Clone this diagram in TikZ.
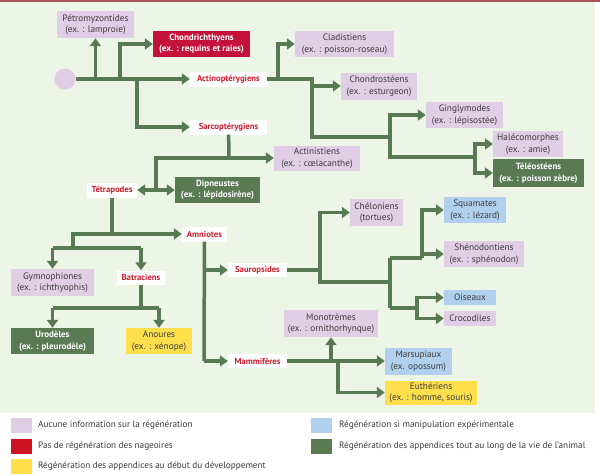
\documentclass[tikz,border=0pt]{standalone}
\usepackage{fontspec}
\setmainfont{PT Sans}
\usetikzlibrary{arrows.meta}
\definecolor{bg}{RGB}{237,245,231}
\definecolor{topline}{RGB}{170,82,92}
\definecolor{wirec}{RGB}{88,122,82}
\definecolor{dgreen}{RGB}{90,122,84}
\definecolor{purp}{RGB}{224,205,230}
\definecolor{redbox}{RGB}{196,18,58}
\definecolor{redleg}{RGB}{204,20,36}
\definecolor{yel}{RGB}{255,224,76}
\definecolor{blu}{RGB}{176,208,238}
\definecolor{labred}{RGB}{208,28,44}
\definecolor{txt}{RGB}{60,60,60}
\tikzset{
  box/.style={inner sep=0pt, align=center, text=txt, font=\fontsize{9.3}{11.5}\selectfont},
  sz/.style 2 args={minimum width=#1, minimum height=#2},
  pbox/.style={box, fill=purp},
  bbox/.style={box, fill=blu},
  ybox/.style={box, fill=yel},
  gbox/.style={box, fill=dgreen, text=white, font=\bfseries\fontsize{9}{11.5}\selectfont},
  rbox/.style={box, fill=redbox, text=white, font=\bfseries\fontsize{9}{11.5}\selectfont},
  lab/.style={box, fill=white, text=labred, font=\bfseries\fontsize{8.7}{10}\selectfont},
  wire/.style={draw=wirec, line width=3.5pt},
  arr/.style={wire, -{Triangle[length=8pt,width=11pt]}},
  swatch/.style={minimum width=21, minimum height=15, inner sep=0pt},
  legtxt/.style={anchor=west, inner sep=0pt, text=txt, font=\fontsize{9.2}{11}\selectfont}
}
\begin{document}
\begin{tikzpicture}[x=1pt,y=-1pt]
\useasboundingbox (0,0) rectangle (600,475);
\fill[white] (0,0) rectangle (600,475);
\fill[bg] (0,2) rectangle (595,413);
\fill[topline] (0,0) rectangle (600,2);

% nodes
\node[circle, fill=purp, minimum size=21, inner sep=0pt] (root) at (65,79) {};
\node[pbox, sz={77}{27}] (petro) at (95.5,24.5) {Pétromyzontides\\(ex. : lamproie)};
\node[rbox, sz={97}{26}] (chon) at (201.5,44) {Chondrichthyens\\(ex. : requins et raies)};
\node[lab, sz={77}{15}] (actino) at (228.5,79) {Actinoptérygiens};
\node[lab, sz={77}{15}] (sarco) at (228.5,127) {Sarcoptérygiens};
\node[pbox, sz={99}{26}] (clad) at (344.5,44) {Cladistiens\\(ex. : poisson-roseau)};
\node[pbox, sz={76}{27}] (chondro) at (379,86) {Chondrostéens\\(ex. : esturgeon)};
\node[pbox, sz={77}{26}] (gingly) at (464.5,115) {Ginglymodes\\(ex. : lépisostée)};
\node[pbox, sz={70}{26}] (halec) at (528,144) {Halécomorphes\\(ex. : amie)};
\node[gbox, sz={91}{28}] (teleo) at (538.5,173) {Téléostéens\\(ex. : poisson zèbre)};
\node[pbox, sz={86}{25}] (actin) at (317,158) {Actinistiens\\(ex. : cœlacanthe)};
\node[lab, sz={50}{15}] (tetra) at (112,190) {Tétrapodes};
\node[gbox, sz={85}{26}] (dipn) at (217.5,190) {Dipneustes\\(ex. : lépidosirène)};
\node[lab, sz={45}{15}] (amnio) at (204.5,234) {Amniotes};
\node[pbox, sz={83}{27}] (gymno) at (52.5,282.5) {Gymnophiones\\(ex. : ichthyophis)};
\node[lab, sz={48}{14}] (batra) at (141,277.5) {Batraciens};
\node[gbox, sz={83}{26}] (urod) at (52.5,341) {Urodèles\\(ex. : pleurodèle)};
\node[ybox, sz={66}{26}] (anour) at (159,341) {Anoures\\(ex. : xénope)};
\node[lab, sz={59}{14}] (sauro) at (257.5,270) {Sauropsides};
\node[lab, sz={59}{14}] (mammi) at (257.5,361) {Mammifères};
\node[pbox, sz={53}{27}] (chelo) at (376.5,212.5) {Chéloniens\\(tortues)};
\node[bbox, sz={62}{26}] (squam) at (475,210) {Squamates\\(ex. : lézard)};
\node[pbox, sz={80}{26}] (sheno) at (484,254) {Shénodontiens\\(ex. : sphénodon)};
\node[bbox, sz={52}{15}] (oise) at (470,297.5) {Oiseaux};
\node[pbox, sz={52}{15}] (croco) at (470,318.5) {Crocodiles};
\node[pbox, sz={94}{27}] (mono) at (331,323.5) {Monotrèmes\\(ex. : ornithorhynque)};
\node[bbox, sz={67}{27}] (marsu) at (418.5,361) {Marsupiaux\\(ex. opossum)};
\node[ybox, sz={92}{24}] (euth) at (431,392.5) {Euthériens\\(ex. : homme, souris)};

% junctions
\coordinate (c1) at (95.5,79);
\coordinate (c2) at (120,79);
\coordinate (c3) at (137,79);
\coordinate (c4) at (278,79);
\coordinate (c5) at (312,79);
\coordinate (c7) at (312,137);
\coordinate (c8) at (390,137);
\coordinate (c9) at (390,157);
\coordinate (c10) at (475,157);
\coordinate (c11) at (229,158);
\coordinate (c12) at (156,158);
\coordinate (c13) at (156,190);
\coordinate (c14) at (112,234);
\coordinate (c15) at (73,234);
\coordinate (c16) at (73,248);
\coordinate (c17) at (52.5,248);
\coordinate (c18) at (141,248);
\coordinate (c19) at (141,308);
\coordinate (c20) at (52.5,308);
\coordinate (c21) at (159,308);
\coordinate (c22) at (204,270);
\coordinate (c23) at (204,361);
\coordinate (c24) at (320,270);
\coordinate (c25) at (320,282);
\coordinate (c26) at (390,282);
\coordinate (c27) at (390,258);
\coordinate (c28) at (390,308);
\coordinate (c29) at (422,258);
\coordinate (c30) at (417,308);
\coordinate (c31) at (331,361);
\coordinate (c32) at (338,361);

% connectors
\draw[arr] (root) -- (actino);
\draw[arr] (c1) -- (petro);
\draw[arr] (c2) |- (chon);
\draw[arr] (c3) |- (sarco);
\draw[arr] (actino) -- (c4) |- (clad);
\draw[wire] (c4) -- (c5) -- (c7) -- (c8);
\draw[arr] (c5) |- (chondro);
\draw[arr] (c8) |- (gingly);
\draw[wire] (c8) -- (c9) -- (c10);
\draw[arr] (c10) |- (halec);
\draw[arr] (c10) |- (teleo);
\draw[wire] (sarco) -- (c11);
\draw[arr] (c11) -- (actin);
\draw[wire] (c11) -- (c12) -- (c13);
\draw[arr] (c13) -- (tetra);
\draw[arr] (c13) -- (dipn);
\draw[arr] (tetra) -- (c14) -- (amnio);
\draw[wire] (c14) -- (c15) -- (c16);
\draw[wire] (c17) -- (c18);
\draw[arr] (c17) -- (gymno);
\draw[arr] (c18) -- (batra);
\draw[wire] (batra) -- (c19);
\draw[wire] (c20) -- (c21);
\draw[arr] (c20) -- (urod);
\draw[arr] (c21) -- (anour);
\draw[wire] (amnio) -- (c23);
\draw[arr] (c22) -- (sauro);
\draw[arr] (c23) -- (mammi);
\draw[arr] (sauro) -- (c24) |- (chelo);
\draw[wire] (c24) -- (c25) -- (c26);
\draw[wire] (c27) -- (c28);
\draw[wire] (c27) -- (c29);
\draw[arr] (c29) |- (squam);
\draw[arr] (c29) |- (sheno);
\draw[wire] (c28) -- (c30);
\draw[arr] (c30) |- (oise);
\draw[arr] (c30) |- (croco);
\draw[arr] (mammi) -- (marsu);
\draw[arr] (c31) -- (mono);
\draw[arr] (c32) |- (euth);

% legend
\node[swatch, fill=purp] (s1) at (21.5,425.5) {};
\node[legtxt] (t1) at (38,425.5) {Aucune information sur la régénération};
\node[swatch, fill=redleg] (s2) at (21.5,446) {};
\node[legtxt] (t2) at (38,446) {Pas de régénération des nageoires};
\node[swatch, fill=yel] (s3) at (21.5,466) {};
\node[legtxt] (t3) at (38,466) {Régénération des appendices au début du développement};
\node[swatch, fill=blu] (s4) at (321.5,425.5) {};
\node[legtxt] (t4) at (339,425.5) {Régénération si manipulation expérimentale};
\node[swatch, fill=dgreen] (s5) at (321.5,446) {};
\node[legtxt] (t5) at (339,446) {Régénération des appendices tout au long de la vie de l’animal};
\end{tikzpicture}
\end{document}
